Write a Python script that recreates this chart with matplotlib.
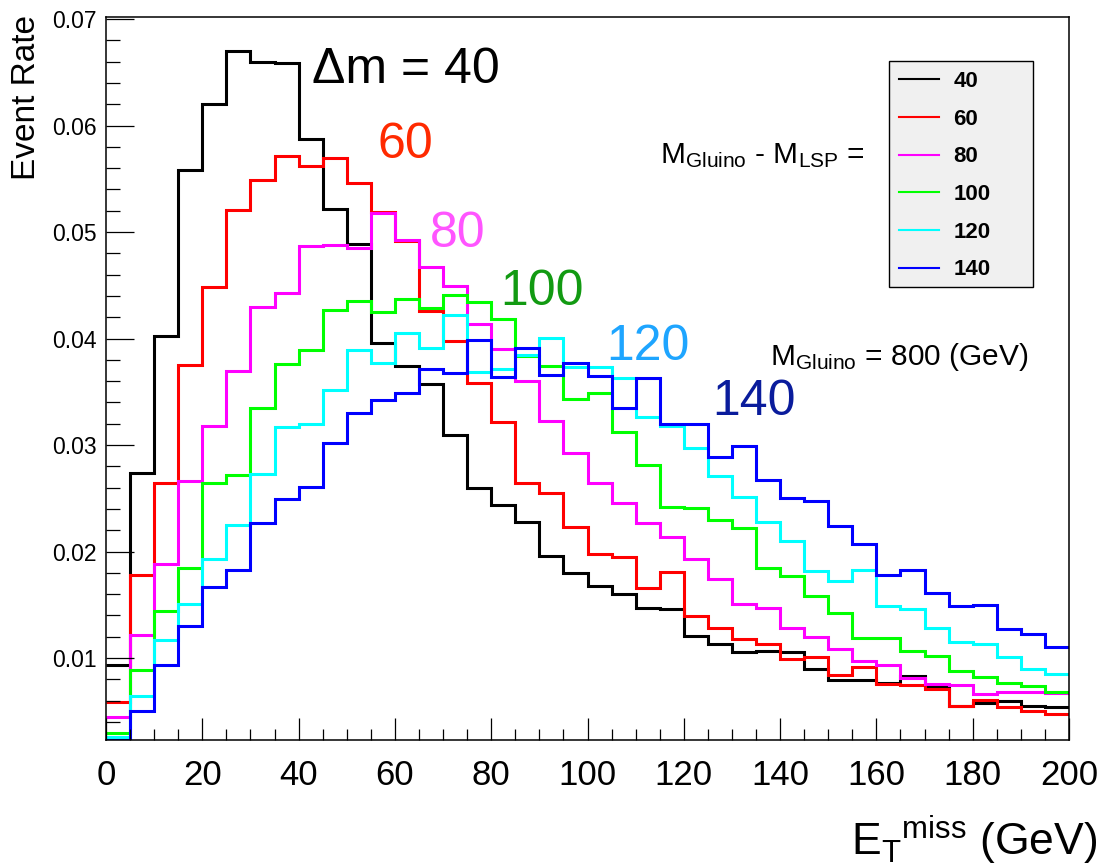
import matplotlib
matplotlib.use("Agg")
import matplotlib.pyplot as plt
from matplotlib.lines import Line2D
from matplotlib.patches import Rectangle
from matplotlib.ticker import MultipleLocator
import numpy as np

plt.rcParams["font.family"] = ["Liberation Sans", "DejaVu Sans"]
plt.rcParams["mathtext.fontset"] = "custom"
plt.rcParams["mathtext.rm"] = "Liberation Sans"
plt.rcParams["mathtext.it"] = "Liberation Sans:italic"
plt.rcParams["mathtext.bf"] = "Liberation Sans:bold"

# MET histograms, 5 GeV bins from 0 to 200, normalised to unit area
BIN_EDGES = np.arange(0, 205, 5)

MASS_SPLITS = ["40", "60", "80", "100", "120", "140"]

rate_dm40 = [0.0093, 0.0274, 0.0402, 0.0558, 0.0620, 0.0670, 0.0660, 0.0659, 0.0587, 0.0522,
             0.0489, 0.0396, 0.0374, 0.0357, 0.0309, 0.0260, 0.0244, 0.0228, 0.0196, 0.0180,
             0.0168, 0.0160, 0.0147, 0.0146, 0.0121, 0.0113, 0.0106, 0.0107, 0.0106, 0.0090,
             0.0079, 0.0079, 0.0077, 0.0083, 0.0073, 0.0055, 0.0058, 0.0060, 0.0055, 0.0054]
rate_dm60 = [0.0059, 0.0178, 0.0264, 0.0375, 0.0448, 0.0521, 0.0549, 0.0571, 0.0562, 0.0570,
             0.0546, 0.0519, 0.0492, 0.0426, 0.0398, 0.0358, 0.0322, 0.0264, 0.0255, 0.0223,
             0.0198, 0.0195, 0.0166, 0.0181, 0.0139, 0.0128, 0.0118, 0.0113, 0.0099, 0.0101,
             0.0084, 0.0092, 0.0076, 0.0075, 0.0071, 0.0055, 0.0061, 0.0054, 0.0050, 0.0047]
rate_dm80 = [0.0045, 0.0122, 0.0188, 0.0266, 0.0318, 0.0370, 0.0430, 0.0443, 0.0487, 0.0488,
             0.0485, 0.0518, 0.0493, 0.0467, 0.0449, 0.0414, 0.0390, 0.0360, 0.0323, 0.0293,
             0.0264, 0.0246, 0.0227, 0.0214, 0.0193, 0.0174, 0.0151, 0.0147, 0.0128, 0.0120,
             0.0108, 0.0097, 0.0093, 0.0081, 0.0076, 0.0075, 0.0066, 0.0068, 0.0068, 0.0067]
rate_dm100 = [0.0030, 0.0089, 0.0144, 0.0185, 0.0264, 0.0272, 0.0335, 0.0376, 0.0389, 0.0427,
              0.0435, 0.0425, 0.0437, 0.0429, 0.0441, 0.0434, 0.0418, 0.0384, 0.0374, 0.0343,
              0.0349, 0.0312, 0.0281, 0.0242, 0.0241, 0.0230, 0.0222, 0.0185, 0.0177, 0.0158,
              0.0142, 0.0119, 0.0119, 0.0107, 0.0102, 0.0088, 0.0082, 0.0077, 0.0074, 0.0068]
rate_dm120 = [0.0026, 0.0064, 0.0117, 0.0151, 0.0193, 0.0225, 0.0273, 0.0317, 0.0320, 0.0352,
              0.0389, 0.0377, 0.0405, 0.0391, 0.0422, 0.0369, 0.0371, 0.0385, 0.0401, 0.0373,
              0.0373, 0.0363, 0.0326, 0.0318, 0.0297, 0.0271, 0.0251, 0.0228, 0.0210, 0.0182,
              0.0172, 0.0183, 0.0149, 0.0146, 0.0128, 0.0115, 0.0113, 0.0101, 0.0090, 0.0085]
rate_dm140 = [0.0023, 0.0050, 0.0093, 0.0130, 0.0167, 0.0183, 0.0227, 0.0249, 0.0261, 0.0302,
              0.0330, 0.0342, 0.0349, 0.0371, 0.0368, 0.0399, 0.0364, 0.0391, 0.0366, 0.0377,
              0.0365, 0.0335, 0.0363, 0.0320, 0.0320, 0.0289, 0.0299, 0.0267, 0.0250, 0.0247,
              0.0224, 0.0207, 0.0178, 0.0183, 0.0161, 0.0149, 0.0150, 0.0127, 0.0123, 0.0110]

RATES = [rate_dm40, rate_dm60, rate_dm80, rate_dm100, rate_dm120, rate_dm140]
LINE_COLORS = ["#000000", "#ff0000", "#ff00ff", "#00ff00", "#00ffff", "#0000ff"]
TAG_COLORS = ["#000000", "#ff2a00", "#ff55ff", "#129a12", "#1ea5ff", "#0a1c9c"]
TAG_TEXT = ["\u0394m = 40", "60", "80", "100", "120", "140"]
# left edge / baseline of the in-plot tags, in figure pixels
TAG_POS = [(312, 83), (378, 158), (430, 247), (500, 305), (606, 360), (712, 415)]

W, H = 1106, 868
fig = plt.figure(figsize=(W / 100, H / 100), dpi=100)
ax = fig.add_axes([106 / W, 1 - 740 / H, 963 / W, 723 / H])


def fig_xy(px, py):
    return px / W, 1 - py / H


for vals, col in zip(RATES, LINE_COLORS):
    ax.stairs(vals, BIN_EDGES, baseline=None, color=col, lw=2.2)

ax.set_xlim(0, 200)
ax.set_ylim(0.0023, 0.0702)

ax.xaxis.set_major_locator(MultipleLocator(20))
ax.xaxis.set_minor_locator(MultipleLocator(5))
ax.yaxis.set_minor_locator(MultipleLocator(0.002))
ax.set_yticks(np.arange(0.01, 0.071, 0.01))
ax.set_yticklabels([f"{v:.2f}" for v in np.arange(0.01, 0.071, 0.01)])

ax.tick_params(axis="both", which="both", direction="in", top=False, right=False, width=0.9)
ax.tick_params(axis="y", which="major", length=20, labelsize=16.5, pad=7)
ax.tick_params(axis="y", which="minor", length=10)
ax.tick_params(axis="x", which="major", length=16, labelsize=25, pad=14)
ax.tick_params(axis="x", which="minor", length=8)
for sp in ax.spines.values():
    sp.set_linewidth(1.1)

fig.text(*fig_xy(27, 15), "Event Rate", rotation=90, ha="center", va="top", fontsize=24)
fig.text(*fig_xy(1097, 855), r"E$_{\mathrm{T}}{}^{\mathrm{miss}}$ (GeV)",
         ha="right", va="baseline", fontsize=32)

for txt, col, (px, py) in zip(TAG_TEXT, TAG_COLORS, TAG_POS):
    fig.text(*fig_xy(px, py), txt, color=col, fontsize=36, ha="left", va="baseline")

fig.text(*fig_xy(865, 163), r"M$_{\mathrm{Gluino}}$ - M$_{\mathrm{LSP}}$ =",
         ha="right", va="baseline", fontsize=21.5)
fig.text(*fig_xy(770, 365), r"M$_{\mathrm{Gluino}}$ = 800 (GeV)",
         ha="left", va="baseline", fontsize=21.5)

# legend box
x0, y0 = fig_xy(889, 287)
x1, y1 = fig_xy(1033, 61)
fig.patches.append(Rectangle((x0, y0), x1 - x0, y1 - y0, transform=fig.transFigure,
                             facecolor="#f0f0f0", edgecolor="black", lw=1.0, zorder=3))
handles = [Line2D([], [], color=c, lw=1.5) for c in LINE_COLORS]
leg = fig.legend(handles, MASS_SPLITS, loc="upper left", bbox_to_anchor=fig_xy(889, 61),
                 frameon=False, borderaxespad=0, borderpad=0.45, handlelength=1.8,
                 handletextpad=0.65, labelspacing=0.75,
                 prop={"size": 16, "weight": "bold"})
leg.set_zorder(4)

fig.savefig("out.png", dpi=100)
